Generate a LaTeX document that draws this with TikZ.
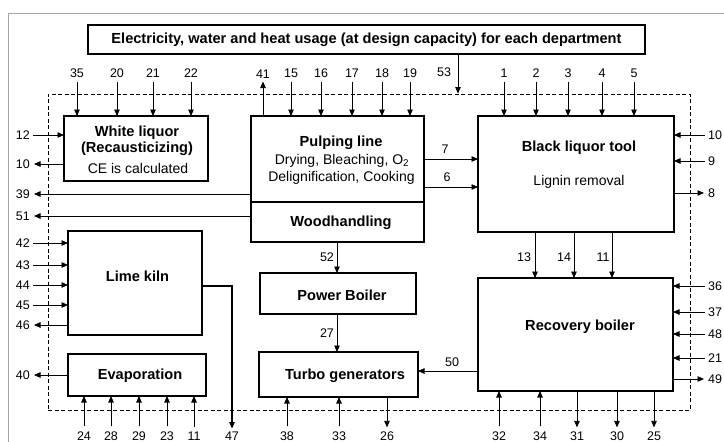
\documentclass[tikz,border=0pt]{standalone}
\usepackage{fontspec}
\setmainfont{Liberation Sans}
\usetikzlibrary{arrows.meta}
\begin{document}
\begin{tikzpicture}[x=1pt,y=-1pt,
 box/.style={draw, line width=1.5pt, inner sep=0pt, outer sep=0pt},
 arr/.style={line width=0.8pt, -{Triangle[length=6.5pt,width=5.5pt]}},
 lbl/.style={font=\fontsize{12.5}{14}\selectfont, inner sep=0pt},
 btxt/.style={font=\fontsize{14.6}{16}\selectfont\bfseries, inner sep=0pt},
 rtxt/.style={font=\fontsize{14}{16}\selectfont, inner sep=0pt},
]
\useasboundingbox (0,0) rectangle (724,442);
% outer frame
\draw[gray!70, line width=0.9pt] (8,442) -- (8,13) -- (724,13);
% system boundary
\node[draw, line width=0.8pt, dash pattern=on 4pt off 2.5pt, minimum width=642pt, minimum height=316pt, inner sep=0pt] (sys) at (369,252) {};
% boxes
\node[box, minimum width=557pt, minimum height=29pt, btxt] (title) at (366.5,39.5) {Electricity, water and heat usage (at design capacity) for each department};
\node[box, minimum width=144pt, minimum height=65pt] (wl) at (136,148.5) {};
\node[box, minimum width=173pt, minimum height=86pt] (pl) at (337.5,159) {};
\node[box, minimum width=173pt, minimum height=40pt] (wh) at (337.5,222) {};
\node[box, minimum width=196pt, minimum height=116pt] (bl) at (576,174) {};
\node[box, minimum width=195pt, minimum height=113pt] (rb) at (575.5,334.5) {};
\node[box, minimum width=134pt, minimum height=104pt] (lk) at (135,283) {};
\node[box, minimum width=138pt, minimum height=42pt] (ev) at (137,375) {};
\node[box, minimum width=156pt, minimum height=41pt] (pb) at (338,293.5) {};
\node[box, minimum width=159pt, minimum height=45pt] (tg) at (338.5,374.5) {};
% box texts
\node[btxt] (wlt1) at (137,133) {White liquor};
\node[btxt] (wlt2) at (137,149) {(Recausticizing)};
\node[rtxt] (wlt3) at (138,168) {CE is calculated};
\node[btxt] (plt1) at (341,143) {Pulping line};
\node[rtxt] (plt2) at (342,161) {Drying, Bleaching, O\textsubscript{2}};
\node[rtxt] (plt3) at (341.5,178) {Delignification, Cooking};
\node[btxt] (wht) at (341,223) {Woodhandling};
\node[btxt] (blt1) at (579,148) {Black liquor tool};
\node[rtxt] (blt2) at (579,182) {Lignin removal};
\node[btxt] (rbt) at (580,327) {Recovery boiler};
\node[btxt] (lkt) at (137.5,276) {Lime kiln};
\node[btxt] (evt) at (140,376) {Evaporation};
\node[btxt] (pbt) at (342,295) {Power Boiler};
\node[btxt] (tgt) at (345,376) {Turbo generators};
% top inputs
\foreach \x/\t in {77/35,117/20,153/21,191/22} {
  \node[lbl] (wt\t) at (\x,73) {\t};
  \draw[arr] ([yshift=-4pt]wt\t.south) -- (wt\t.south |- wl.north);
}
\foreach \x/\t in {291/15,321/16,352/17,382/18,410/19} {
  \node[lbl] (pt\t) at (\x,73) {\t};
  \draw[arr] ([yshift=-4pt]pt\t.south) -- (pt\t.south |- pl.north);
}
\foreach \x/\t in {504/1,536/2,568/3,602/4,634/5} {
  \node[lbl] (bt\t) at (\x,73) {\t};
  \draw[arr] ([yshift=-4pt]bt\t.south) -- (bt\t.south |- bl.north);
}
\node[lbl] (pt41) at (263,74) {41};
\draw[arr] (pt41.south |- pl.north) -- ([yshift=-3pt]pt41.south);
\node[lbl] (t53) at (444,72) {53};
\coordinate (c53) at (458,0);
\draw[arr] (c53 |- title.south) -- (c53 |- sys.north);
% pulping -> black liquor
\coordinate (y7) at (0,159);
\coordinate (y6) at (0,187);
\draw[arr] (y7 -| pl.east) -- (y7 -| bl.west);
\draw[arr] (y6 -| pl.east) -- (y6 -| bl.west);
\node[lbl] (l7) at (445,149) {7};
\node[lbl] (l6) at (447,177) {6};
% left side
\foreach \y/\t in {135/12} {
  \node[lbl, anchor=east] (lw\t) at (30,\y) {\t};
  \draw[arr] ([xshift=3pt]lw\t.east) -- (lw\t -| wl.west);
}
\node[lbl, anchor=east] (lw10) at (30,164) {10};
\draw[arr] (lw10 -| wl.west) -- ([xshift=4pt]lw10.east);
\node[lbl, anchor=east] (lp39) at (30,194) {39};
\draw[arr] (lp39 -| pl.west) -- ([xshift=4pt]lp39.east);
\node[lbl, anchor=east] (lh51) at (30,216) {51};
\draw[arr] (lh51 -| wh.west) -- ([xshift=4pt]lh51.east);
\foreach \y/\t in {243/42,265/43,285/44,305/45} {
  \node[lbl, anchor=east] (lk\t) at (30,\y) {\t};
  \draw[arr] ([xshift=3pt]lk\t.east) -- (lk\t -| lk.west);
}
\node[lbl, anchor=east] (lk46) at (30,325) {46};
\draw[arr] (lk46 -| lk.west) -- ([xshift=4pt]lk46.east);
\node[lbl, anchor=east] (le40) at (30,375) {40};
\draw[arr] (le40 -| ev.west) -- ([xshift=4pt]le40.east);
% right side
\foreach \y/\t in {135/10,161/9} {
  \node[lbl, anchor=west] (rb\t) at (708,\y) {\t};
  \draw[arr] ([xshift=-3pt]rb\t.west) -- (rb\t -| bl.east);
}
\node[lbl, anchor=west] (rb8) at (708,193) {8};
\draw[arr] (rb8 -| bl.east) -- ([xshift=-4pt]rb8.west);
\foreach \y/\t in {286/36,312/37,334/48,358/21} {
  \node[lbl, anchor=west] (rr\t) at (708,\y) {\t};
  \draw[arr] ([xshift=-3pt]rr\t.west) -- (rr\t -| rb.east);
}
\node[lbl, anchor=west] (rr49) at (708,379) {49};
\draw[arr] (rr49 -| rb.east) -- ([xshift=-4pt]rr49.west);
% black liquor -> recovery boiler
\foreach \x/\lx/\t in {535/524/13,574/564/14,612/603/11} {
  \coordinate (cb\t) at (\x,0);
  \draw[arr] (cb\t |- bl.south) -- (cb\t |- rb.north);
  \node[lbl] (lb\t) at (\lx,257) {\t};
}
% woodhandling -> power boiler -> turbo
\coordinate (c52) at (337,0);
\draw[arr] (c52 |- wh.south) -- (c52 |- pb.north);
\draw[arr] (c52 |- pb.south) -- (c52 |- tg.north);
\node[lbl] (l52) at (327,257) {52};
\node[lbl] (l27) at (327,333) {27};
% recovery -> turbo
\coordinate (y50) at (0,371);
\draw[arr] (y50 -| rb.west) -- (y50 -| tg.east);
\node[lbl] (l50) at (452,362) {50};
% lime kiln -> 47
\node[lbl] (b47) at (232,436) {47};
\coordinate (y47) at (0,286);
\draw[arr, line width=1.2pt] (y47 -| lk.east) -| ([yshift=3pt]b47.north);
% bottom inputs/outputs
\foreach \x/\t in {84/24,111/28,139/29,167/23,194/11} {
  \node[lbl] (be\t) at (\x,436) {\t};
  \draw[arr] ([yshift=5pt]be\t.north) -- (be\t.north |- ev.south);
}
\foreach \x/\t in {287/38,339/33} {
  \node[lbl] (bt\t) at (\x,436) {\t};
  \draw[arr] ([yshift=5pt]bt\t.north) -- (bt\t.north |- tg.south);
}
\node[lbl] (bt26) at (387,436) {26};
\draw[arr] (bt26.north |- tg.south) -- ([yshift=4pt]bt26.north);
\foreach \x/\t in {499/32,540/34} {
  \node[lbl] (br\t) at (\x,436) {\t};
  \draw[arr] ([yshift=5pt]br\t.north) -- (br\t.north |- rb.south);
}
\foreach \x/\t in {577/31,617/30,654/25} {
  \node[lbl] (br\t) at (\x,436) {\t};
  \draw[arr] (br\t.north |- rb.south) -- ([yshift=4pt]br\t.north);
}
\end{tikzpicture}
\end{document}
